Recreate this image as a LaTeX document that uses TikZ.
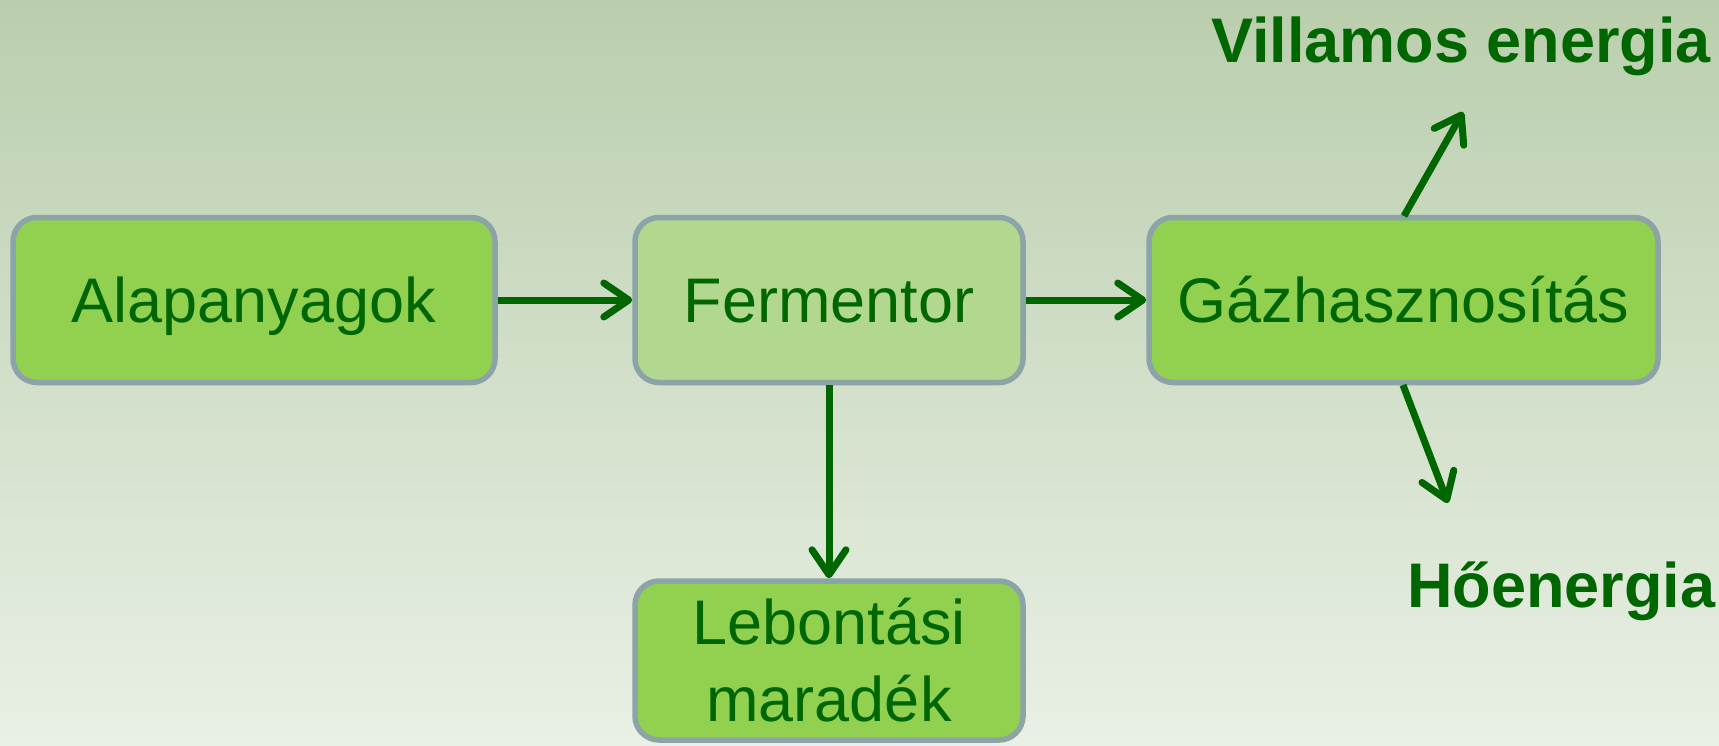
\documentclass[tikz,border=0pt]{standalone}
\usepackage{fontspec}
\setmainfont{Liberation Sans}
\usetikzlibrary{arrows.meta}
\definecolor{bgtop}{RGB}{186,206,173}
\definecolor{bgbot}{RGB}{233,240,229}
\definecolor{boxfill}{RGB}{146,208,80}
\definecolor{boxlight}{RGB}{178,216,143}
\definecolor{boxline}{RGB}{140,164,168}
\definecolor{txtgreen}{RGB}{0,102,0}
\tikzset{
  procbox/.style={draw=boxline, line width=5.5pt, fill=boxfill, rounded corners=24pt,
    minimum height=165pt, inner sep=0pt, align=center, text=txtgreen,
    font=\fontsize{63}{77}\selectfont},
  oneline/.style={text height=45pt, text depth=0pt},
  outlabel/.style={text=txtgreen, inner sep=0pt, font=\fontsize{63}{76}\selectfont\bfseries},
  flow/.style={draw=txtgreen, line width=7pt, -{Straight Barb[length=25pt,width=34pt,round]}}
}
\begin{document}
\begin{tikzpicture}[x=1pt,y=-1pt]
\useasboundingbox (0,0) rectangle (1719,745);
\shade[top color=bgtop, bottom color=bgbot] (0,0) rectangle (1719,745);
\node[procbox, oneline, minimum width=482pt] (alap) at (254,300) {Alapanyagok};
\node[procbox, oneline, minimum width=388pt, fill=boxlight] (ferm) at (829,300) {Fermentor};
\node[procbox, oneline, minimum width=509pt] (gaz) at (1403.5,300) {Gázhasznosítás};
\node[procbox, minimum width=388pt, minimum height=159pt] (leb) at (829,660.5) {Lebontási\\maradék};
\node[outlabel, anchor=base west] (vill) at (1211,62) {Villamos energia};
\node[outlabel, anchor=base west] (ho) at (1407,607) {Hőenergia};
\coordinate (vs) at (1404,216);
\coordinate (ve) at (1463,112);
\coordinate (hs) at (1403,385);
\coordinate (he) at (1448,503);
\draw[flow] (alap.east) -- (ferm.west);
\draw[flow] (ferm.east) -- (gaz.west);
\draw[flow] (ferm.south) -- (leb.north);
\draw[flow] (vs) -- (ve);
\draw[flow] (hs) -- (he);
\end{tikzpicture}
\end{document}
